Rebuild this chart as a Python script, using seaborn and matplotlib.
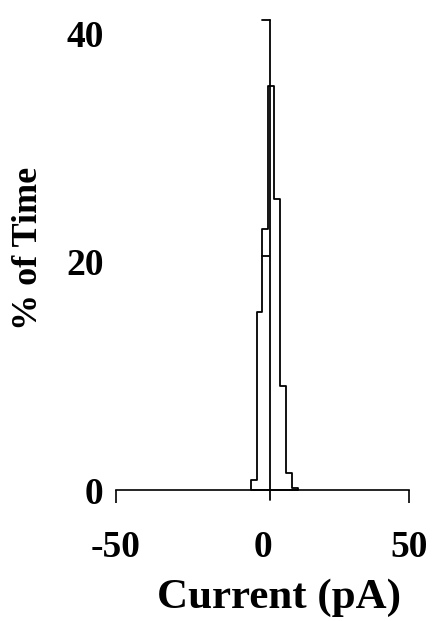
import numpy as np
import matplotlib
matplotlib.use("Agg")
import matplotlib.pyplot as plt
import seaborn as sns

# histogram (2 pA bins, % of time)
bin_edges = [-4, -2, 0, 2, 4, 6, 8, 10, 12]
bin_centers = [-3, -1, 1, 3, 5, 7, 9, 11]
pct_time = [0.9, 15.6, 22.9, 35.4, 25.5, 9.1, 1.5, 0.15]

# second outline inside the 0-2 pA bin
inner_x = [0, 2.3]
inner_y = [20.5, 20.5]

# vertical marker line with hook at top
marker_x = 2.6
marker_bottom = -0.9
marker_top = 41.2
hook_start = 0

x_ticks = [-50, 0, 50]
y_ticks = [0, 20, 40]

sns.set_style("white")
plt.rcParams['font.family'] = ['Liberation Serif', 'DejaVu Serif']
plt.rcParams['font.weight'] = 'bold'
plt.rcParams['text.color'] = 'black'
plt.rcParams['axes.labelcolor'] = 'black'
plt.rcParams['xtick.color'] = 'black'
plt.rcParams['ytick.color'] = 'black'

fig = plt.figure(figsize=(4.35, 6.21), dpi=100)
ax = fig.add_axes([116 / 435, 1 - 490 / 621, 293 / 435, 479 / 621])

sns.histplot(x=bin_centers, weights=pct_time, bins=bin_edges, element="step",
             fill=True, color="white", alpha=1, ax=ax)
for coll in ax.collections:
    coll.set_edgecolor("black")
    coll.set_linewidth(1.3)

ax.plot(inner_x, inner_y, color="black", linewidth=1.3)
ax.plot([marker_x, marker_x], [marker_bottom, marker_top], color="black",
        linewidth=1.3, clip_on=False)
ax.plot([hook_start, marker_x], [marker_top, marker_top], color="black",
        linewidth=1.3, clip_on=False)

ax.set_xlim(-50, 50)
ax.set_ylim(0, 42)

for s in ["top", "right", "left"]:
    ax.spines[s].set_visible(False)
ax.spines["bottom"].set_linewidth(1.2)
ax.spines["bottom"].set_color("black")
ax.spines["bottom"].set_zorder(3)

ax.set_xticks(x_ticks)
ax.set_xticklabels([str(t) for t in x_ticks])
ax.set_yticks(y_ticks)
ax.set_yticklabels([str(t) for t in y_ticks])

ax.tick_params(axis="x", direction="out", length=9, width=1.2, pad=20,
               labelsize=27, bottom=True, colors="black")
ax.tick_params(axis="y", length=0, pad=9, labelsize=27, left=False,
               colors="black")
# hide the tick mark at 0 on x
ax.xaxis.get_major_ticks()[1].tick1line.set_visible(False)

for lab in ax.get_xticklabels() + ax.get_yticklabels():
    lab.set_fontweight("bold")

ax.set_xlabel("Current (pA)", fontsize=31, fontweight="bold", color="black")
ax.set_ylabel("% of Time", fontsize=26, fontweight="bold", va="center",
              color="black")
ax.xaxis.set_label_coords(0.558, -0.185)
ax.yaxis.set_label_coords(-0.30, 0.505)

fig.savefig("out.png", dpi=100)
